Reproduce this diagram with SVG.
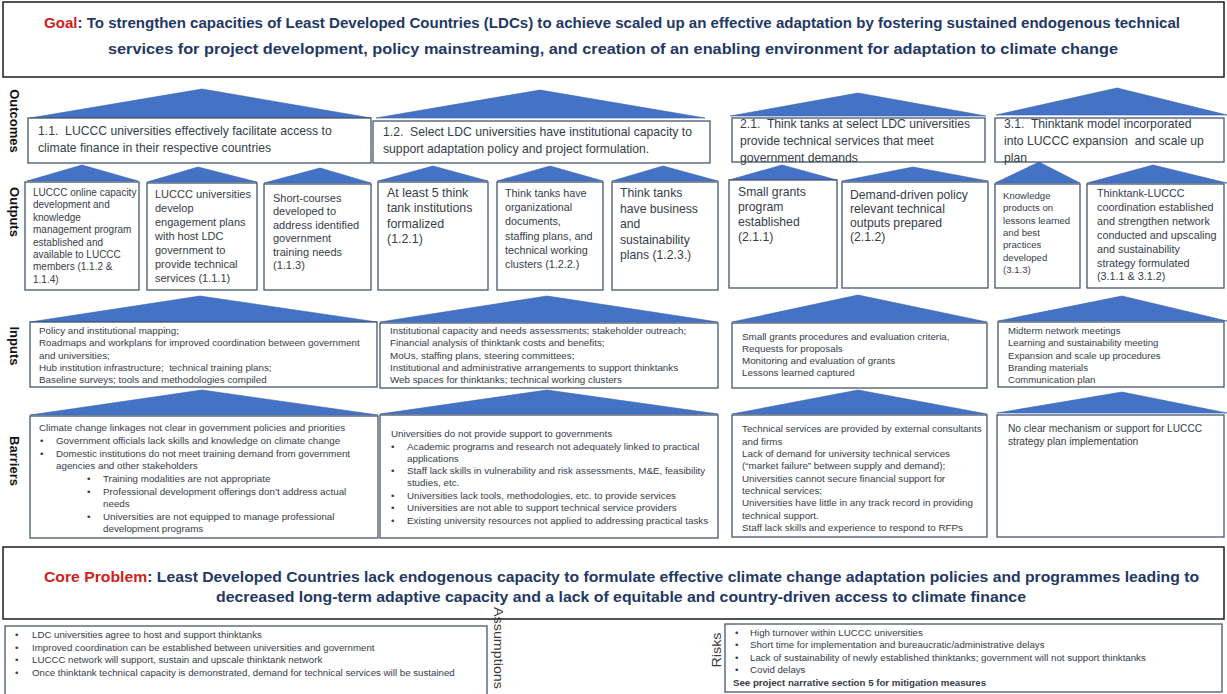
<svg xmlns="http://www.w3.org/2000/svg" width="1227" height="694" viewBox="0 0 1227 694">
  <style>
    .frame { fill: #ffffff; stroke: #1b1b1b; stroke-width: 1.5; }
    .box { fill: #ffffff; stroke: #46566E; stroke-width: 1.3; }
    .tri { fill: #4472C4; stroke: #3B63AC; stroke-width: 0.6; }
    .t { font-family: "Liberation Sans", Arial, sans-serif; fill: #363C48; }
    .hd { font-family: "Liberation Sans", Arial, sans-serif; font-weight: bold; font-size: 15.5px; fill: #1F3864; }
    .red { fill: #D0211C; }
    .row { font-family: "Liberation Sans", Arial, sans-serif; font-weight: bold; font-size: 13px; fill: #111111; }
    .side { font-family: "Liberation Sans", Arial, sans-serif; font-size: 13px; fill: #3a3a3a; }
    .s122 { font-size: 12.2px; }
    .s124 { font-size: 12.4px; }
    .s11 { font-size: 11px; }
    .s108 { font-size: 10.8px; }
    .s10 { font-size: 10px; }
    .s98 { font-size: 9.8px; }
    .s96 { font-size: 9.6px; }
    .s97 { font-size: 9.7px; }
    .b { font-weight: bold; }
  </style>

  <rect width="1227" height="694" fill="#ffffff"/>

  <!-- Goal banner -->
  <g id="goal">
    <rect class="frame" x="3" y="2" width="1221" height="75"/>
    <text class="hd" x="44" y="28" textLength="1136" lengthAdjust="spacingAndGlyphs"><tspan class="red">Goal</tspan>: To strengthen capacities of Least Developed Countries (LDCs) to achieve scaled up an effective adaptation by fostering sustained endogenous technical</text>
    <text class="hd" x="108" y="54" textLength="1010" lengthAdjust="spacingAndGlyphs">services for project development, policy mainstreaming, and creation of an enabling environment for adaptation to climate change</text>
  </g>

  <!-- Row labels -->
  <g id="row-labels">
    <text class="row" text-anchor="middle" transform="translate(10 121) rotate(90)">Outcomes</text>
    <text class="row" text-anchor="middle" transform="translate(10 212) rotate(90)">Outputs</text>
    <text class="row" text-anchor="middle" transform="translate(10 346) rotate(90)">Inputs</text>
    <text class="row" text-anchor="middle" transform="translate(10 461) rotate(90)">Barriers</text>
  </g>

  <!-- Upward arrowheads linking each level to the one above -->
  <g id="connectors">
    <polygon class="tri" points="202,89 30,118 371,118"/>
    <polygon class="tri" points="540,90 376,118 705,118"/>
    <polygon class="tri" points="858,93 730,116 986,116"/>
    <polygon class="tri" points="1117,88 996,115 1227,115"/>

    <polygon class="tri" points="82,165 27,181 138,181"/>
    <polygon class="tri" points="198,167 147,182 257,182"/>
    <polygon class="tri" points="320,168 264,183 371,183"/>
    <polygon class="tri" points="433,166 378,181 488,181"/>
    <polygon class="tri" points="550,166 497,181 603,181"/>
    <polygon class="tri" points="663,166 612,181 718,181"/>
    <polygon class="tri" points="782,165 729,180 837,180"/>
    <polygon class="tri" points="913,167 842,181 988,181"/>
    <polygon class="tri" points="1039,162 995,183 1080,183"/>
    <polygon class="tri" points="1153,165 1087,183 1227,183"/>

    <polygon class="tri" points="200,296 30,322 377,322"/>
    <polygon class="tri" points="547,296 380,322 718,322"/>
    <polygon class="tri" points="858,295 732,322 987,322"/>
    <polygon class="tri" points="1122,296 998,321 1227,321"/>

    <polygon class="tri" points="202,390 30,415 378,415"/>
    <polygon class="tri" points="547,390 380,414 718,414"/>
    <polygon class="tri" points="858,390 732,414 987,414"/>
    <polygon class="tri" points="1122,392 997,413 1227,413"/>
  </g>

  <!-- Outcomes -->
  <g id="outcome-1-1">
    <rect class="box" x="28" y="118" width="343" height="45"/>
    <text class="t s122" x="38" y="135">1.1.&#160; LUCCC universities effectively facilitate access to<tspan x="38" y="152">climate finance in their respective countries</tspan></text>
  </g>
  <g id="outcome-1-2">
    <rect class="box" x="373" y="121" width="337" height="42"/>
    <text class="t s122" x="383" y="136">1.2.&#160; Select LDC universities have institutional capacity to<tspan x="383" y="153">support adaptation policy and project formulation.</tspan></text>
  </g>
  <g id="outcome-2-1">
    <rect class="box" x="732" y="118" width="253" height="44"/>
    <text class="t s122" x="740" y="128">2.1.&#160; Think tanks at select LDC universities<tspan x="740" y="145">provide technical services that meet</tspan><tspan x="740" y="162">government demands</tspan></text>
  </g>
  <g id="outcome-3-1">
    <rect class="box" x="995" y="118" width="229" height="44"/>
    <text class="t s122" x="1004" y="128">3.1.&#160; Thinktank model incorporated<tspan x="1004" y="145">into LUCCC expansion&#160; and scale up</tspan><tspan x="1004" y="162">plan</tspan></text>
  </g>

  <!-- Outputs -->
  <g id="output-1-1-2">
    <rect class="box" x="25" y="182" width="114" height="108"/>
    <text class="t s10" x="33" y="196">LUCCC online capacity<tspan x="33" y="208.4">development and</tspan><tspan x="33" y="220.8">knowledge</tspan><tspan x="33" y="233.2">management program</tspan><tspan x="33" y="245.6">established and</tspan><tspan x="33" y="258">available to LUCCC</tspan><tspan x="33" y="270.4">members (1.1.2 &amp;</tspan><tspan x="33" y="282.8">1.1.4)</tspan></text>
  </g>
  <g id="output-1-1-1">
    <rect class="box" x="147" y="183" width="110" height="107"/>
    <text class="t s11" x="155" y="198">LUCCC universities<tspan x="155" y="212">develop</tspan><tspan x="155" y="226">engagement plans</tspan><tspan x="155" y="240">with host LDC</tspan><tspan x="155" y="254">government to</tspan><tspan x="155" y="268">provide technical</tspan><tspan x="155" y="282">services (1.1.1)</tspan></text>
  </g>
  <g id="output-1-1-3">
    <rect class="box" x="264" y="184" width="107" height="106"/>
    <text class="t s11" x="273" y="202">Short-courses<tspan x="273" y="215.4">developed to</tspan><tspan x="273" y="228.8">address identified</tspan><tspan x="273" y="242.2">government</tspan><tspan x="273" y="255.6">training needs</tspan><tspan x="273" y="269">(1.1.3)</tspan></text>
  </g>
  <g id="output-1-2-1">
    <rect class="box" x="378" y="182" width="110" height="108"/>
    <text class="t s124" x="387" y="197">At least 5 think<tspan x="387" y="212.4">tank institutions</tspan><tspan x="387" y="227.8">formalized</tspan><tspan x="387" y="243.2">(1.2.1)</tspan></text>
  </g>
  <g id="output-1-2-2">
    <rect class="box" x="497" y="182" width="106" height="108"/>
    <text class="t s108" x="505" y="197">Think tanks have<tspan x="505" y="211.2">organizational</tspan><tspan x="505" y="225.4">documents,</tspan><tspan x="505" y="239.6">staffing plans, and</tspan><tspan x="505" y="253.8">technical working</tspan><tspan x="505" y="268">clusters (1.2.2.)</tspan></text>
  </g>
  <g id="output-1-2-3">
    <rect class="box" x="612" y="182" width="106" height="108"/>
    <text class="t s122" x="620" y="197">Think tanks<tspan x="620" y="212.5">have business</tspan><tspan x="620" y="228">and</tspan><tspan x="620" y="243.5">sustainability</tspan><tspan x="620" y="259">plans (1.2.3.)</tspan></text>
  </g>
  <g id="output-2-1-1">
    <rect class="box" x="729" y="180" width="108" height="108"/>
    <text class="t s122" x="738" y="196">Small grants<tspan x="738" y="211">program</tspan><tspan x="738" y="226">established</tspan><tspan x="738" y="241">(2.1.1)</tspan></text>
  </g>
  <g id="output-2-1-2">
    <rect class="box" x="842" y="182" width="146" height="106"/>
    <text class="t s122" x="850" y="199">Demand-driven policy<tspan x="850" y="213">relevant technical</tspan><tspan x="850" y="227">outputs prepared</tspan><tspan x="850" y="241">(2.1.2)</tspan></text>
  </g>
  <g id="output-3-1-3">
    <rect class="box" x="995" y="184" width="85" height="104"/>
    <text class="t s96" x="1003" y="199">Knowledge<tspan x="1003" y="211.3">products on</tspan><tspan x="1003" y="223.6">lessons learned</tspan><tspan x="1003" y="235.9">and best</tspan><tspan x="1003" y="248.2">practices</tspan><tspan x="1003" y="260.5">developed</tspan><tspan x="1003" y="272.8">(3.1.3)</tspan></text>
  </g>
  <g id="output-3-1-1">
    <rect class="box" x="1087" y="184" width="137" height="104"/>
    <text class="t s108" x="1097" y="197">Thinktank-LUCCC<tspan x="1097" y="210.9">coordination established</tspan><tspan x="1097" y="224.8">and strengthen network</tspan><tspan x="1097" y="238.7">conducted and upscaling</tspan><tspan x="1097" y="252.6">and sustainability</tspan><tspan x="1097" y="266.5">strategy formulated</tspan><tspan x="1097" y="280.4">(3.1.1 &amp; 3.1.2)</tspan></text>
  </g>

  <!-- Inputs -->
  <g id="inputs-1">
    <rect class="box" x="30" y="322" width="347" height="65"/>
    <text class="t s98" x="39" y="334">Policy and institutional mapping;<tspan x="39" y="346.3">Roadmaps and workplans for improved coordination between government</tspan><tspan x="39" y="358.6">and universities;</tspan><tspan x="39" y="370.9">Hub institution infrastructure;&#160; technical training plans;</tspan><tspan x="39" y="383.2">Baseline surveys; tools and methodologies compiled</tspan></text>
  </g>
  <g id="inputs-2">
    <rect class="box" x="380" y="323" width="338" height="65"/>
    <text class="t s98" x="390" y="334">Institutional capacity and needs assessments; stakeholder outreach;<tspan x="390" y="346.3">Financial analysis of thinktank costs and benefits;</tspan><tspan x="390" y="358.6">MoUs, staffing plans, steering committees;</tspan><tspan x="390" y="370.9">Institutional and administrative arrangements to support thinktanks</tspan><tspan x="390" y="383.2">Web spaces for thinktanks; technical working clusters</tspan></text>
  </g>
  <g id="inputs-3">
    <rect class="box" x="732" y="323" width="255" height="65"/>
    <text class="t s98" x="742" y="340">Small grants procedures and evaluation criteria,<tspan x="742" y="352">Requests for proposals</tspan><tspan x="742" y="364">Monitoring and evaluation of grants</tspan><tspan x="742" y="376">Lessons learned captured</tspan></text>
  </g>
  <g id="inputs-4">
    <rect class="box" x="998" y="322" width="226" height="65"/>
    <text class="t s96" x="1008" y="334">Midterm network meetings<tspan x="1008" y="346.3">Learning and sustainability meeting</tspan><tspan x="1008" y="358.6">Expansion and scale up procedures</tspan><tspan x="1008" y="370.9">Branding materials</tspan><tspan x="1008" y="383.2">Communication plan</tspan></text>
  </g>

  <!-- Barriers -->
  <g id="barriers-1">
    <rect class="box" x="30" y="416" width="348" height="122"/>
    <text class="t s98" x="39" y="431">Climate change linkages not clear in government policies and priorities</text>
    <text class="t s98">
      <tspan x="40" y="444">•</tspan><tspan x="56" y="444">Government officials lack skills and knowledge on climate change</tspan>
      <tspan x="40" y="457">•</tspan><tspan x="56" y="457">Domestic institutions do not meet training demand from government</tspan>
      <tspan x="56" y="469">agencies and other stakeholders</tspan>
      <tspan x="87" y="482">•</tspan><tspan x="103" y="482">Training modalities are not appropriate</tspan>
      <tspan x="87" y="495">•</tspan><tspan x="103" y="495">Professional development offerings don’t address actual</tspan>
      <tspan x="103" y="507">needs</tspan>
      <tspan x="87" y="520">•</tspan><tspan x="103" y="520">Universities are not equipped to manage professional</tspan>
      <tspan x="103" y="532">development programs</tspan>
    </text>
  </g>
  <g id="barriers-2">
    <rect class="box" x="380" y="415" width="338" height="123"/>
    <text class="t s98" x="391" y="437">Universities do not provide support to governments</text>
    <text class="t s98">
      <tspan x="391" y="450">•</tspan><tspan x="407" y="450">Academic programs and research not adequately linked to practical</tspan>
      <tspan x="407" y="461.5">applications</tspan>
      <tspan x="391" y="474">•</tspan><tspan x="407" y="474">Staff lack skills in vulnerability and risk assessments, M&amp;E, feasibility</tspan>
      <tspan x="407" y="486">studies, etc.</tspan>
      <tspan x="391" y="499">•</tspan><tspan x="407" y="499">Universities lack tools, methodologies, etc. to provide services</tspan>
      <tspan x="391" y="511">•</tspan><tspan x="407" y="511">Universities are not able to support technical service providers</tspan>
      <tspan x="391" y="524">•</tspan><tspan x="407" y="524">Existing university resources not applied to addressing practical tasks</tspan>
    </text>
  </g>
  <g id="barriers-3">
    <rect class="box" x="732" y="415" width="255" height="122"/>
    <text class="t s98" x="742" y="432">Technical services are provided by external consultants<tspan x="742" y="444.5">and firms</tspan><tspan x="742" y="457">Lack of demand for university technical services</tspan><tspan x="742" y="469">(“market failure” between supply and demand);</tspan><tspan x="742" y="481.5">Universities cannot secure financial support for</tspan><tspan x="742" y="494">technical services;</tspan><tspan x="742" y="506">Universities have little in any track record in providing</tspan><tspan x="742" y="518.5">technical support.</tspan><tspan x="742" y="531">Staff lack skills and experience to respond to RFPs</tspan></text>
  </g>
  <g id="barriers-4">
    <rect class="box" x="997" y="415" width="227" height="122"/>
    <text class="t" font-size="10.2" x="1008" y="432">No clear mechanism or support for LUCCC<tspan x="1008" y="445">strategy plan implementation</tspan></text>
  </g>

  <!-- Core problem banner -->
  <g id="core-problem">
    <rect class="frame" x="3" y="547" width="1221" height="72"/>
    <text class="hd" x="44" y="582" textLength="1155" lengthAdjust="spacingAndGlyphs"><tspan class="red">Core Problem</tspan>: Least Developed Countries lack endogenous capacity to formulate effective climate change adaptation policies and programmes leading to</text>
    <text class="hd" x="216" y="602" textLength="810" lengthAdjust="spacingAndGlyphs">decreased long-term adaptive capacity and a lack of equitable and country-driven access to climate finance</text>
  </g>

  <!-- Assumptions -->
  <g id="assumptions">
    <rect class="box" x="5" y="626" width="482" height="74"/>
    <text class="t s97">
      <tspan x="15" y="638">•</tspan><tspan x="32" y="638">LDC universities agree to host and support thinktanks</tspan>
      <tspan x="15" y="650.5">•</tspan><tspan x="32" y="650.5">Improved coordination can be established between universities and government</tspan>
      <tspan x="15" y="663">•</tspan><tspan x="32" y="663">LUCCC network will support, sustain and upscale thinktank network</tspan>
      <tspan x="15" y="675.5">•</tspan><tspan x="32" y="675.5">Once thinktank technical capacity is demonstrated, demand for technical services will be sustained</tspan>
    </text>
    <text class="side" text-anchor="middle" transform="translate(494 648) rotate(90)" textLength="82" lengthAdjust="spacingAndGlyphs">Assumptions</text>
  </g>

  <!-- Risks -->
  <g id="risks">
    <rect class="box" x="725" y="624" width="497" height="68"/>
    <text class="side" text-anchor="middle" transform="translate(721 650) rotate(-90)" textLength="35" lengthAdjust="spacingAndGlyphs">Risks</text>
    <text class="t s97">
      <tspan x="735" y="636">•</tspan><tspan x="750" y="636">High turnover within LUCCC universities</tspan>
      <tspan x="735" y="648">•</tspan><tspan x="750" y="648">Short time for implementation and bureaucratic/administrative delays</tspan>
      <tspan x="735" y="660.5">•</tspan><tspan x="750" y="660.5">Lack of sustainability of newly established thinktanks; government will not support thinktanks</tspan>
      <tspan x="735" y="672.5">•</tspan><tspan x="750" y="672.5">Covid delays</tspan>
    </text>
    <text class="t s97 b" x="733" y="686">See project narrative section 5 for mitigation measures</text>
  </g>
</svg>
